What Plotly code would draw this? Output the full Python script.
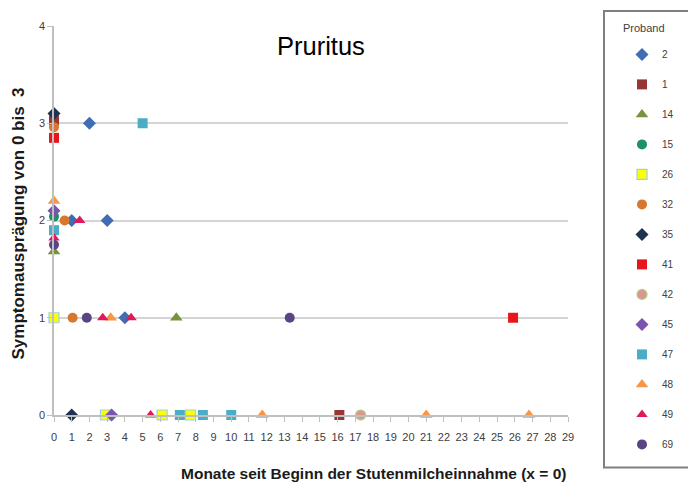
import plotly.graph_objects as go

# ---- data (months since start, symptom score) ----
probands = ["2", "1", "14", "15", "26", "32", "35", "41", "42", "45", "47", "48", "49", "69"]

x_2 = [2, 1, 3, 4]
y_2 = [3, 2, 2, 1]
x_1 = [0, 16.1]
y_1 = [3.03, 0]
x_14 = [0, 6.9]
y_14 = [1.68, 1]
x_15 = [0]
y_15 = [2.04]
x_26 = [0, 2.9, 6.1, 7.7]
y_26 = [1, 0, 0, 0]
x_32 = [0, 0.6, 1.05]
y_32 = [2.96, 2, 1]
x_35 = [0, 1]
y_35 = [3.1, 0]
x_41 = [0, 25.9]
y_41 = [2.85, 1]
x_42 = [17.3]
y_42 = [0]
x_45 = [0, 3.25]
y_45 = [2.1, 0]
x_47 = [0, 5, 7.1, 8.4, 10]
y_47 = [1.9, 3, 0, 0, 0]
x_48 = [0, 3.2, 11.75, 21, 26.8]
y_48 = [2.2, 1, 0, 0, 0]
x_49 = [0, 1.45, 2.75, 4.35, 5.45]
y_49 = [1.82, 2, 1, 1, 0]
x_69 = [0, 1.85, 13.3]
y_69 = [1.75, 1, 1]

xs = [x_2, x_1, x_14, x_15, x_26, x_32, x_35, x_41, x_42, x_45, x_47, x_48, x_49, x_69]
ys = [y_2, y_1, y_14, y_15, y_26, y_32, y_35, y_41, y_42, y_45, y_47, y_48, y_49, y_69]

x_ticks = list(range(0, 30))
y_ticks = [0, 1, 2, 3, 4]

# ---- styles ----
symbols = ["diamond", "square", "triangle-up", "circle", "square", "circle", "diamond",
           "square", "circle", "diamond", "square", "triangle-up", "triangle-up", "circle"]
fills = ["#3F6DB3", "#953735", "#77933C", "#1E8F6A", "#FFFF00", "#D7782E", "#1F3250",
         "#E8161B", "#D99694", "#7A55B0", "#4BACC6", "#F79646", "#E0185E", "#5B4486"]
lines = ["#3F6DB3", "#953735", "#77933C", "#1E8F6A", "#9CD3E0", "#D7782E", "#1F3250",
         "#E8161B", "#B5CF7A", "#7A55B0", "#4BACC6", "#F79646", "#E0185E", "#5B4486"]
sizes = [10, 10, 11, 10, 10, 10, 10, 10, 10, 10, 10, 11, 10, 10]

fig = go.Figure()
for i, name in enumerate(probands):
    fig.add_trace(go.Scatter(
        x=xs[i], y=ys[i], mode="markers", name=name, legendgroup=name,
        marker=dict(symbol=symbols[i], color=fills[i], size=sizes[i],
                    line=dict(color=lines[i], width=1.2 if i in (4, 8) else 0)),
        cliponaxis=False,
    ))

font_main = "Liberation Sans, Arial, sans-serif"


def xp(px):  # reference pixel -> paper x
    return (px - 54) / 514


def yp(py):  # reference pixel -> paper y
    return (415 - py) / 392


fig.update_layout(
    width=688, height=478,
    margin=dict(l=46, r=128, t=15, b=71),
    paper_bgcolor="white", plot_bgcolor="white",
    font=dict(family=font_main, color="#404040", size=11),
    showlegend=True,
    legend=dict(
        x=xp(622), y=yp(37), xanchor="left", yanchor="top",
        font=dict(size=10, color="#404040"),
        tracegroupgap=11, traceorder="grouped",
        itemsizing="trace", bgcolor="rgba(0,0,0,0)", maxheight=470,
    ),
    xaxis=dict(
        range=[0, 29], tickvals=x_ticks, ticktext=[str(v) for v in x_ticks],
        showgrid=False, zeroline=False, showline=True, linecolor="#BFBFBF", linewidth=1.5,
        ticks="outside", ticklen=5, tickcolor="#BFBFBF", tickfont=dict(size=11, color="#404040"),
        ticklabelstandoff=6,
    ),
    yaxis=dict(
        range=[0, 4], tickvals=y_ticks, showgrid=True, gridcolor="#D4D4D4", gridwidth=1.5,
        zeroline=False, showline=True, linecolor="#BFBFBF", linewidth=1.5,
        ticks="outside", ticklen=5, tickcolor="#BFBFBF", tickfont=dict(size=11, color="#404040"),
    ),
    annotations=[
        dict(text="Pruritus", x=xp(321), y=yp(43), xref="paper", yref="paper",
             xanchor="center", yanchor="middle",
             showarrow=False, font=dict(size=25.5, color="#000000", family=font_main)),
        dict(text="<b>Symptomausprägung von 0 bis\u00a0 3</b>", x=xp(18), y=yp(222),
             xref="paper", yref="paper", xanchor="center", yanchor="middle",
             showarrow=False, textangle=-90,
             font=dict(size=17, color="#1a1a1a", family=font_main)),
        dict(text="<b>Monate seit Beginn der Stutenmilcheinnahme (x = 0)</b>", x=xp(373),
             y=yp(474), xref="paper", yref="paper", xanchor="center", yanchor="middle",
             showarrow=False, font=dict(size=15.5, color="#1a1a1a", family=font_main)),
        dict(text="Proband", x=xp(644), y=yp(25), xref="paper", yref="paper",
             xanchor="center", yanchor="middle",
             showarrow=False, font=dict(size=11, color="#404040", family=font_main)),
    ],
    shapes=[
        dict(type="rect", xref="paper", yref="paper",
             x0=xp(604), x1=xp(700), y0=yp(468), y1=yp(8),
             line=dict(color="#7F7F7F", width=2), fillcolor="rgba(0,0,0,0)"),
    ],
)

fig.write_html("out.html")
